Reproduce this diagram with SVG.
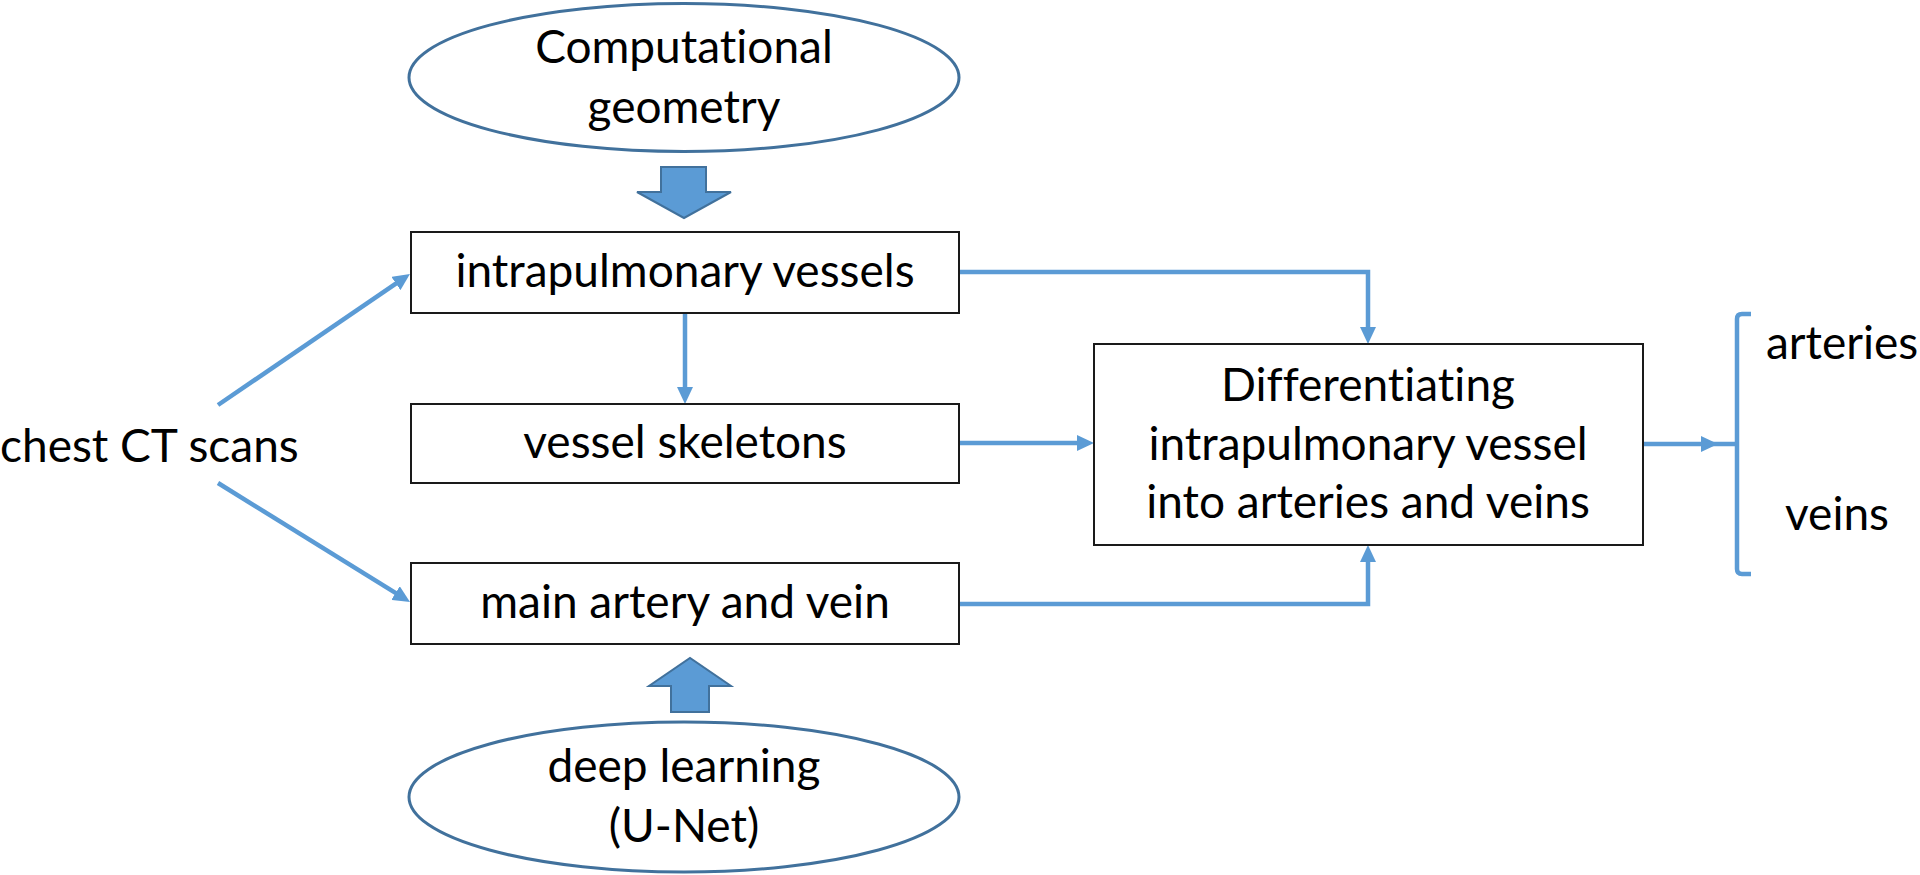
<svg xmlns="http://www.w3.org/2000/svg" width="1920" height="875" viewBox="0 0 1920 875">
<defs>
<style>
.t{font-family:Lato,"Liberation Sans",sans-serif;font-size:46px;fill:#000;font-variant-ligatures:none;}
.c{text-anchor:middle;}
.box{fill:#fff;stroke:#1a1a1a;stroke-width:2;}
.ell{fill:#fff;stroke:#41719C;stroke-width:3;}
.blk{fill:#5B9BD5;stroke:#41719C;stroke-width:2;}
.con{fill:none;stroke:#5B9BD5;stroke-width:4.5;}
</style>
<marker id="ah" markerUnits="userSpaceOnUse" markerWidth="17" markerHeight="16" viewBox="0 0 17 16" refX="7" refY="8" orient="auto">
<path d="M0,0 L17,8 L0,16 z" fill="#5B9BD5"/>
</marker>
</defs>
<rect width="1920" height="875" fill="#fff"/>

<g id="connectors">
<path class="con" d="M218,405 L401.7,279.6" marker-end="url(#ah)"/>
<path class="con" d="M218,483 L401.5,596.7" marker-end="url(#ah)"/>
<path class="con" d="M959,272 H1368 V334" marker-end="url(#ah)"/>
<path class="con" d="M685,314 V394" marker-end="url(#ah)"/>
<path class="con" d="M959,443 H1084" marker-end="url(#ah)"/>
<path class="con" d="M959,604 H1368 V555" marker-end="url(#ah)"/>
<path class="con" d="M1643,444 H1708" marker-end="url(#ah)"/>
<path class="con" d="M1705,444 H1737"/>
<path class="con" d="M1751,314 H1742 Q1737,314 1737,319 V569 Q1737,574 1742,574 H1751"/>
</g>

<g id="n-geometry">
<ellipse class="ell" cx="684" cy="77.5" rx="275" ry="74"/>
<text class="t c" x="684" y="63">Computational</text>
<text class="t c" x="684" y="123">geometry</text>
</g>
<g id="a-down">
<path class="blk" d="M661,167 H706 V192 H731 L684,218 L637,192 H661 Z"/>
</g>
<g id="n-intra">
<rect class="box" x="411" y="232" width="548" height="81"/>
<text class="t c" x="685" y="287">intrapulmonary vessels</text>
</g>
<g id="n-skel">
<rect class="box" x="411" y="404" width="548" height="79"/>
<text class="t c" x="685" y="458">vessel skeletons</text>
</g>
<g id="n-main">
<rect class="box" x="411" y="563" width="548" height="81"/>
<text class="t c" x="685" y="618">main artery and vein</text>
</g>
<g id="a-up">
<path class="blk" d="M671,712 H709 V686 H731 L690,658 L649,686 H671 Z"/>
</g>
<g id="n-deep">
<ellipse class="ell" cx="684" cy="797" rx="275" ry="75"/>
<text class="t c" x="684" y="782">deep learning</text>
<text class="t c" x="684" y="842">(U-Net)</text>
</g>
<g id="n-chest">
<text class="t" x="0" y="462">chest CT scans</text>
</g>
<g id="n-diff">
<rect class="box" x="1094" y="344" width="549" height="201"/>
<text class="t c" x="1368" y="401">Differentiating</text>
<text class="t c" x="1368" y="460">intrapulmonary vessel</text>
<text class="t c" x="1368" y="518">into arteries and veins</text>
</g>
<g id="n-arteries">
<text class="t" x="1766" y="359">arteries</text>
</g>
<g id="n-veins">
<text class="t" x="1785" y="530">veins</text>
</g>
</svg>
